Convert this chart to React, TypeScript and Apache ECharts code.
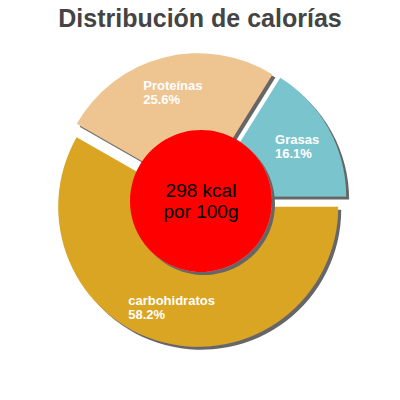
import { useEffect, useRef } from 'react'
import * as echarts from 'echarts'

const names = ['carbohidratos', 'Proteínas', 'Grasas']
const percents = [58.2, 25.6, 16.1]
const colors = ['#DAA520', '#EEC591', '#7AC5CD']
const centerLines = ['298 kcal', 'por 100g']

export default function App() {
  const ref = useRef<HTMLDivElement>(null)

  useEffect(() => {
    if (!ref.current) return
    const chart = echarts.init(ref.current, undefined, { renderer: 'svg' })
    const font = 'Liberation Sans, Arial, sans-serif'
    const shadow = { shadowColor: '#666666', shadowOffsetX: 3, shadowOffsetY: 3, shadowBlur: 0 }
    const common = {
      type: 'pie',
      center: [200, 200],
      startAngle: 0,
      clockwise: true,
      selectedMode: 'multiple',
      selectedOffset: 7,
      emphasis: { disabled: true },
      labelLine: { show: false },
    }
    chart.setOption({
      animation: false,
      backgroundColor: '#ffffff',
      title: {
        text: 'Distribución de calorías',
        left: 'center', top: 0,
        textStyle: { fontFamily: font, fontSize: 25, fontWeight: 'bold', color: '#444444' },
      },
      series: [
        {
          ...common,
          radius: [0, 140],
          label: { show: false },
          itemStyle: { ...shadow, borderWidth: 0 },
          data: names.map((n, i) => ({ name: n, value: percents[i], selected: true, itemStyle: { color: colors[i] } })),
          z: 2,
        },
        {
          // label layer: a transparent ring so that labels sit at about 3/4 of the radius
          ...common,
          radius: [62, 140],
          silent: true,
          label: {
            show: true, position: 'inside',
            formatter: (p: any) => `{a|${p.name}}\n{a|${p.value}%}`,
            rich: { a: { color: '#ffffff', fontFamily: font, fontSize: 13, fontWeight: 'bold', lineHeight: 14, align: 'left' } },
          },
          itemStyle: { color: 'transparent', borderWidth: 0 },
          data: names.map((n, i) => ({ name: n, value: percents[i], selected: true })),
          z: 4,
        },
        {
          type: 'pie',
          center: [201, 201],
          radius: [0, 71],
          silent: true,
          emphasis: { disabled: true },
          label: {
            show: true, position: 'center',
            formatter: centerLines.join('\n'),
            color: '#000000', fontFamily: font, fontSize: 19, lineHeight: 21,
          },
          labelLine: { show: false },
          itemStyle: { ...shadow, color: '#ff0000' },
          data: [{ name: 'kcal', value: 298 }],
          z: 3,
        },
      ],
    })
    return () => chart.dispose()
  }, [])

  return <div ref={ref} style={{ position: 'fixed', left: 0, top: 0, width: 400, height: 400 }} />
}
